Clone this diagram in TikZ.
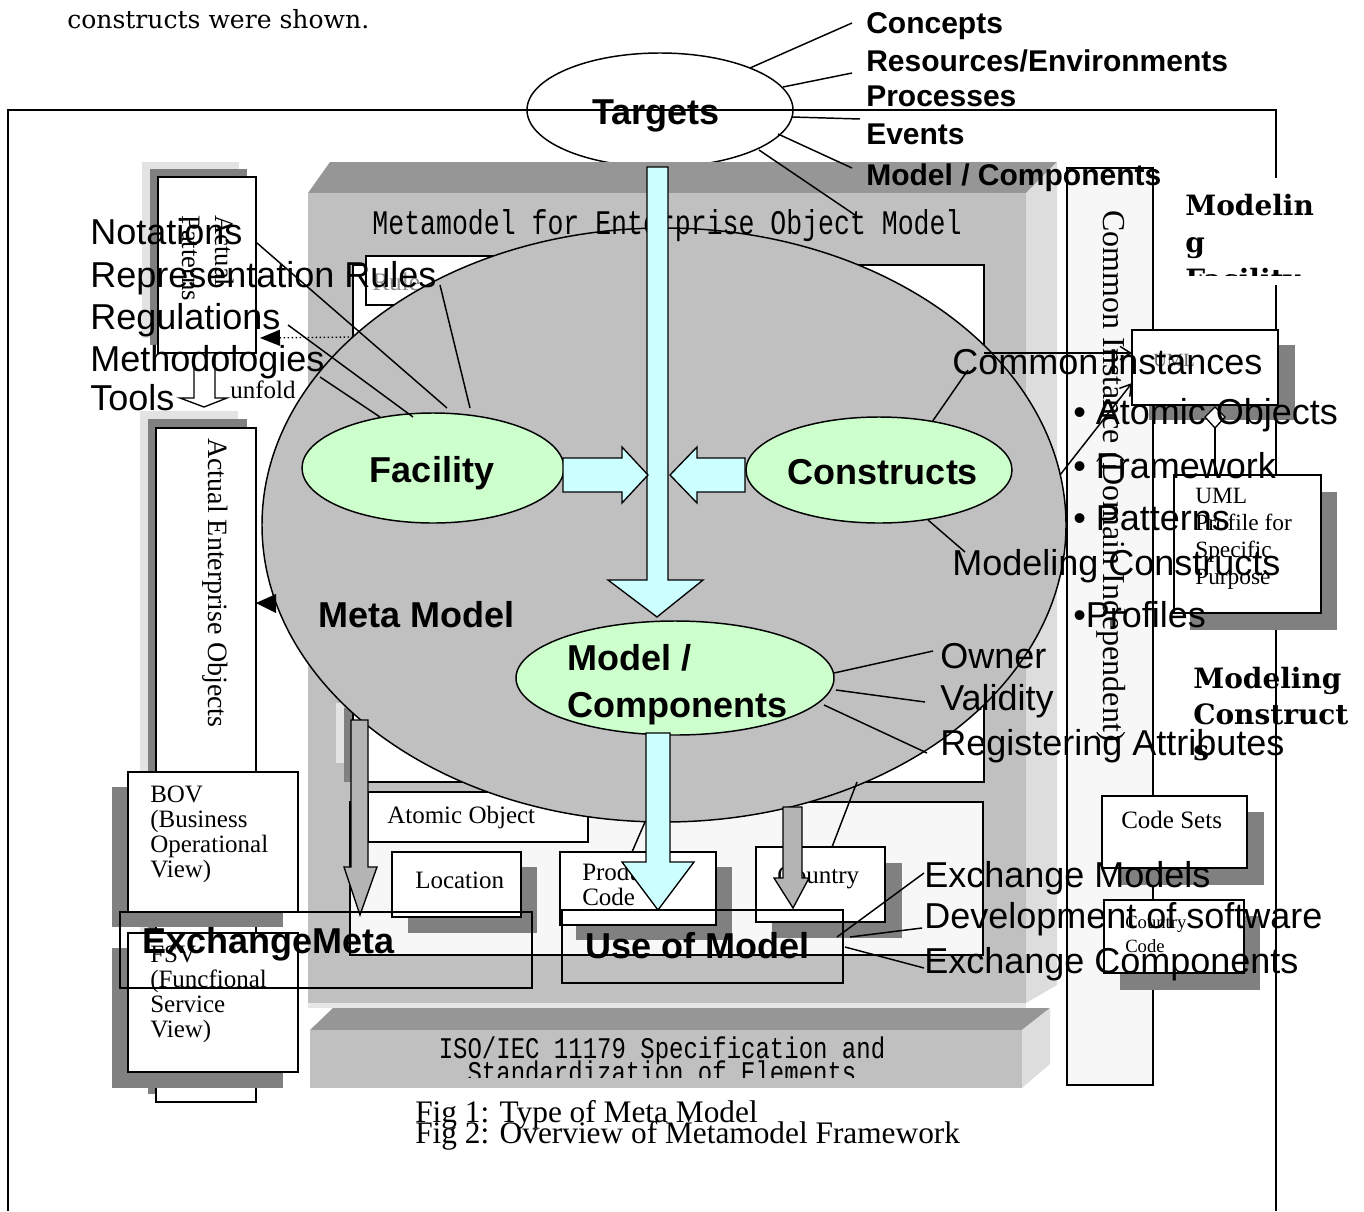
\documentclass[tikz,border=0pt]{standalone}
\usepackage{graphicx}
\usepackage{fontspec}
\setmainfont{Liberation Serif}
\setsansfont{Liberation Sans}
\setmonofont{Liberation Mono}
\newfontfamily\dvserif{DejaVu Serif}
\usetikzlibrary{shapes.geometric,arrows.meta}
\definecolor{cyanf}{HTML}{CCFFFF}
\definecolor{greenf}{HTML}{CCFFCC}
\definecolor{silver}{HTML}{C0C0C0}
\definecolor{topface}{HTML}{969696}
\definecolor{sideface}{HTML}{DDDDDD}
\definecolor{shadowd}{HTML}{808080}
\definecolor{shadowl}{HTML}{E3E3E3}
\definecolor{lightbox}{HTML}{F7F7F7}
\definecolor{grayarrow}{HTML}{B4B4B4}
\begin{document}
\begin{tikzpicture}[x=0.75pt,y=-0.75pt,
  ell/.style={ellipse,draw,line width=1.1pt,inner sep=0pt},
  bx/.style={draw,fill=white,line width=1.1pt},
  ld/.style={line width=1.1pt},
  lab/.style={font=\sffamily\fontsize{27}{31}\selectfont,anchor=base west,inner sep=0pt},
  blab/.style={font=\sffamily\bfseries\fontsize{27}{31}\selectfont,inner sep=0pt},
  tlab/.style={font=\sffamily\bfseries\fontsize{22.5}{26}\selectfont,anchor=base west,inner sep=0pt},
  stx/.style={font=\rmfamily\fontsize{18.75}{22}\selectfont,anchor=base west,inner sep=0pt},
  ptx/.style={font=\rmfamily\fontsize{17.5}{20}\selectfont,anchor=base west,inner sep=0pt},
  hb/.style={font=\dvserif\bfseries\fontsize{21}{25}\selectfont,anchor=base west,inner sep=0pt},
  rt/.style={font=\rmfamily\fontsize{20}{20}\selectfont,rotate=-90,anchor=base west,inner sep=0pt},
  mono/.style={font=\ttfamily\fontsize{19.9}{22}\selectfont,inner sep=0pt,anchor=base},
  cyanarrow/.style={fill=cyanf,draw,line width=1pt},
  grayarr/.style={fill=grayarrow,draw,line width=1pt},
]
\useasboundingbox (0,0) rectangle (1364,1211);

% top caption line
\node[font=\dvserif\fontsize{18.8}{20}\selectfont,anchor=base west,inner sep=0pt] (topcap) at (67,28) {constructs were shown.};

% Targets ellipse
\node[ell,fill=white,minimum width=199.5pt,minimum height=85.5pt] (T) at (660,110) {};

% outer frame
\draw[line width=2pt] (8,1211) -- (8,110) -- (1276,110) -- (1276,1211);

% Actual Patterns box
\fill[shadowl] (142,162) rectangle (239,338);
\fill[shadowd] (150,169) rectangle (247,345);
\draw[bx] (158,177) rectangle (256,353);
\node[rt] (ap1) at (215,215) {Actual};
\node[rt] (ap2) at (182,215) {Patterns};

% unfold arrow
\draw[fill=white,line width=1pt] (194,353) -- (215,353) -- (215,398) -- (227,398) -- (204,407) -- (180,398) -- (194,398) -- cycle;
\node[stx] (unf) at (230,398) {unfold};

% Actual Enterprise Objects box
\fill[shadowl] (140,411) rectangle (238,1086);
\fill[shadowd] (148,419) rectangle (247,1094);
\draw[bx] (156,428) rectangle (256,1102);
\node[rt,font=\rmfamily\fontsize{21}{21}\selectfont] (aeo) at (208,438) {Actual Enterprise Objects};

% Metamodel 3D block
\fill[topface] (330,162) -- (1057,162) -- (1026,193) -- (308,193) -- cycle;
\fill[silver] (308,193) rectangle (1026,1003);
\fill[sideface] (1026,193) -- (1057,162) -- (1057,985) -- (1026,1003) -- cycle;
\fill[sideface!70] (308,1003) rectangle (1026,1008);
% ISO block
\fill[topface] (333,1008) -- (1050,1008) -- (1022,1030) -- (310,1030) -- cycle;
\fill[silver] (310,1030) rectangle (1022,1088);
\fill[sideface] (1022,1030) -- (1050,1008) -- (1050,1064) -- (1022,1088) -- cycle;

% Common Instance column
\draw[fill=lightbox,line width=1.1pt] (1067,168) rectangle (1153,1085);
\node[rt,font=\rmfamily\fontsize{24}{24}\selectfont] (cid) at (1103,210) {Common Instance (Domain Independent)};

% Modeling Facility heading
\fill[white] (1178,178) rectangle (1320,285);
\begin{scope}
\clip (1178,178) rectangle (1320,275);
\node[hb] (mf1) at (1185,215) {Modelin};
\node[hb] (mf2) at (1185,252) {g};
\node[hb] (mf3) at (1185,289) {Facility};
\end{scope}

% UML box
\fill[shadowd] (1149,345) rectangle (1295,420);
\draw[bx] (1132,330) rectangle (1278,405);
\node[font=\rmfamily\fontsize{14}{14}\selectfont,text=black!60,anchor=base west,inner sep=0pt] (umlt) at (1153,366) {UML};
\draw[fill=white,line width=1pt] (1215,407) -- (1225,417) -- (1215,428) -- (1205,417) -- cycle;
\draw[line width=1pt] (1215,428) -- (1215,475);
% UML Profile box
\fill[shadowd] (1190,492) rectangle (1337,630);
\draw[bx] (1174,475) rectangle (1321,613);
\node[ptx] (up1) at (1195,503) {UML};
\node[ptx] (up2) at (1195,530) {Profile for};
\node[ptx] (up3) at (1195,557) {Specific};
\node[ptx] (up4) at (1195,584) {Purpose};
% Code Sets
\fill[shadowd] (1118,812) rectangle (1264,885);
\draw[bx] (1102,796) rectangle (1247,868);
\node[stx] (cs) at (1121,828) {Code Sets};
% Country Code
\fill[shadowd] (1120,916) rectangle (1260,990);
\draw[bx] (1104,900) rectangle (1244,973);
\node[font=\rmfamily\fontsize{14}{14}\selectfont,anchor=base west,inner sep=0pt] (cc1) at (1125,928) {Country};
\node[font=\rmfamily\fontsize{14}{14}\selectfont,anchor=base west,inner sep=0pt] (cc2) at (1125,952) {Code};

% inner white rectangles
\draw[bx] (353,265) rectangle (984,782);
\draw[bx] (366,256) rectangle (520,305);
\node[font=\rmfamily\fontsize{19}{19}\selectfont,text=black!45,anchor=base west,inner sep=0pt] (rule) at (372,290) {Rule};
\fill[shadowl] (336,703) rectangle (344,763);
\fill[shadowd] (344,708) rectangle (352,782);

% light box with objects
\draw[fill=lightbox,line width=1.1pt] (350,802) rectangle (983,955);
\draw[bx] (368,792) rectangle (588,842);
\fill[shadowd] (408,867) rectangle (537,933);
\draw[bx] (392,852) rectangle (521,917);
\node[stx] (loc) at (415,888) {Location};
\fill[shadowd] (576,867) rectangle (732,940);
\draw[bx] (560,852) rectangle (716,925);
\node[stx] (pc1) at (582,880) {Product};
\node[stx] (pc2) at (582,905) {Code};
\fill[shadowd] (772,863) rectangle (902,938);
\draw[bx] (756,847) rectangle (885,922);
\node[stx] (ctry) at (777,883) {Country};

% BOV / FSV
\fill[shadowd] (112,787) rectangle (283,927);
\draw[bx] (128,772) rectangle (298,912);
\node[stx] (b1) at (150,802) {BOV};
\node[stx] (b2) at (150,827) {(Business};
\node[stx] (b3) at (150,852) {Operational};
\node[stx] (b4) at (150,877) {View)};
\fill[shadowd] (112,948) rectangle (283,1088);
\draw[bx] (128,933) rectangle (298,1072);
\node[stx] (f1) at (150,962) {FSV};
\node[stx] (f2) at (150,987) {(Funcfional};
\node[stx] (f3) at (150,1012) {Service};
\node[stx] (f4) at (150,1037) {View)};

% Meta model ellipse
\node[ell,fill=silver,minimum width=603pt,minimum height=445.5pt] (M) at (664,525) {};

% block texts
\node[mono] (mmt) at (667,234) {\scalebox{1}[1.3]{Metamodel for Enterprise Object Model}};
\node[mono,font=\ttfamily\fontsize{18}{20}\selectfont] (iso1) at (662,1058) {\scalebox{1}[1.25]{ISO/IEC 11179 Specification and}};
\begin{scope}
\clip (310,1030) rectangle (1022,1077);
\node[mono,font=\ttfamily\fontsize{18}{20}\selectfont] (iso2) at (662,1082) {\scalebox{1}[1.25]{Standardization of Elements}};
\end{scope}
\node[stx] (ato) at (387,823) {Atomic Object};

% dotted arrow and black arrowhead to the left column
\draw[dotted,line width=1pt,-{Triangle[length=15pt,width=12pt]}] (353,337) -- (260,338);
\fill (276,594) -- (256,603) -- (276,613) -- cycle;

% gray arrows
\draw[grayarr] (351,720) -- (368,720) -- (368,867) -- (377,867) -- (360,915) -- (344,867) -- (351,867) -- cycle;
\draw[grayarr] (783,807) -- (802,807) -- (802,878) -- (809,878) -- (793,908) -- (774,878) -- (783,878) -- cycle;

% lines to product / country
\draw[ld] (645,822) -- (632,852);
\draw[ld] (857,782) -- (832,847);

% big cyan arrow from Targets
\draw[cyanarrow] (647,167) -- (668,167) -- (668,580) -- (703,580) -- (657,617) -- (608,580) -- (647,580) -- cycle;

% green ellipses
\node[ell,fill=greenf,minimum width=196.5pt,minimum height=82.5pt] (F) at (433,468) {};
\node[ell,fill=greenf,minimum width=199.5pt,minimum height=79.5pt] (C) at (879,470) {};
\node[ell,fill=greenf,minimum width=238.5pt,minimum height=85.5pt] (MC) at (675,678) {};

% side cyan arrows
\draw[cyanarrow] (563,458) -- (622,458) -- (622,447) -- (648,475) -- (622,503) -- (622,492) -- (563,492) -- cycle;
\draw[cyanarrow] (745,458) -- (697,458) -- (697,447) -- (670,475) -- (697,503) -- (697,492) -- (745,492) -- cycle;
% lower cyan arrow
\draw[cyanarrow] (646,733) -- (670,733) -- (670,862) -- (694,862) -- (658,910) -- (622,862) -- (646,862) -- cycle;

% ellipse texts
\node[blab,anchor=base] (tt) at (656,124) {Targets};
\node[blab,anchor=base] (ft) at (432,482) {Facility};
\node[blab,anchor=base] (ct) at (883,484) {Constructs};
\node[blab,anchor=base west] (mmtx) at (318,627) {Meta Model};
\node[blab,anchor=base west] (mc1) at (567,670) {Model /};
\node[blab,anchor=base west] (mc2) at (567,717) {Components};

% Use of Model / ExchangeMeta
\draw[line width=1.1pt] (562,910) rectangle (843,983);
\node[blab,anchor=base west] (uom) at (585,958) {Use of Model};
\draw[line width=1.1pt] (120,912) rectangle (532,988);
\node[blab,anchor=base west] (exm) at (142,953) {ExchangeMeta};

% arrows into UML box
\draw[ld,-{Straight Barb[length=8pt,width=10pt]}] (984,353) -- (1132,353);
\draw[ld,-{Straight Barb[length=8pt,width=10pt]}] (1060,475) -- (1132,383);

% left labels
\node[lab] (n1) at (90,244) {Notations};
\node[lab] (n2) at (90,287) {Representation Rules};
\node[lab] (n3) at (90,329) {Regulations};
\node[lab] (n4) at (90,371) {Methodologies};
\node[lab] (n5) at (90,410) {Tools};
\draw[ld] (257,243) -- (447,408);
\draw[ld] (440,285) -- (470,408);
\draw[ld] (288,325) -- (413,417);
\draw[ld] (320,377) -- (380,417);

% top right labels
\node[tlab] (t1) at (866,33) {Concepts};
\node[tlab] (t2) at (866,71) {Resources/Environments};
\node[tlab] (t3) at (866,106) {Processes};
\node[tlab] (t4) at (866,144) {Events};
\node[tlab] (t5) at (866,185) {Model / Components};
\draw[ld] (750,68) -- (852,23);
\draw[ld] (783,87) -- (852,73);
\draw[ld] (792,117) -- (860,119);
\draw[ld] (778,134) -- (852,168);
\draw[ld] (759,150) -- (855,215);

% right labels
\node[lab] (r1) at (952,374) {Common Instances};
\node[lab] (r2) at (1073,424) {• Atomic Objects};
\node[lab] (r3) at (1073,478) {• Framework};
\node[lab] (r4) at (1073,530) {• Patterns};
\node[lab] (r5) at (952,575) {Modeling Constructs};
\node[lab] (r6) at (1073,627) {•Profiles};
\draw[ld] (932,422) -- (968,370);
\draw[ld] (928,520) -- (965,552);

\node[lab] (o1) at (940,668) {Owner};
\node[lab] (o2) at (940,710) {Validity};
\node[lab] (o3) at (940,755) {Registering Attributes};
\draw[ld] (834,673) -- (933,651);
\draw[ld] (836,690) -- (925,702);
\draw[ld] (824,705) -- (927,753);

\node[lab] (e1) at (924,887) {Exchange Models};
\node[lab] (e2) at (924,928) {Development of software};
\node[lab] (e3) at (924,973) {Exchange Components};
\draw[ld] (837,937) -- (924,873);
\draw[ld] (850,937) -- (922,928);
\draw[ld] (845,947) -- (924,968);

% Modeling Constructs heading
\node[hb] (mk1) at (1193,688) {Modeling};
\node[hb] (mk2) at (1193,724) {Construct};
\node[hb] (mk3) at (1193,760) {s};

% figure captions
\node[font=\rmfamily\fontsize{23.5}{24}\selectfont,anchor=base west,inner sep=0pt] (fig1) at (415,1122) {Fig 1: Type of Meta Model};
\node[font=\rmfamily\fontsize{23.5}{24}\selectfont,anchor=base west,inner sep=0pt] (fig2) at (415,1143) {Fig 2: Overview of Metamodel Framework};
\end{tikzpicture}
\end{document}
